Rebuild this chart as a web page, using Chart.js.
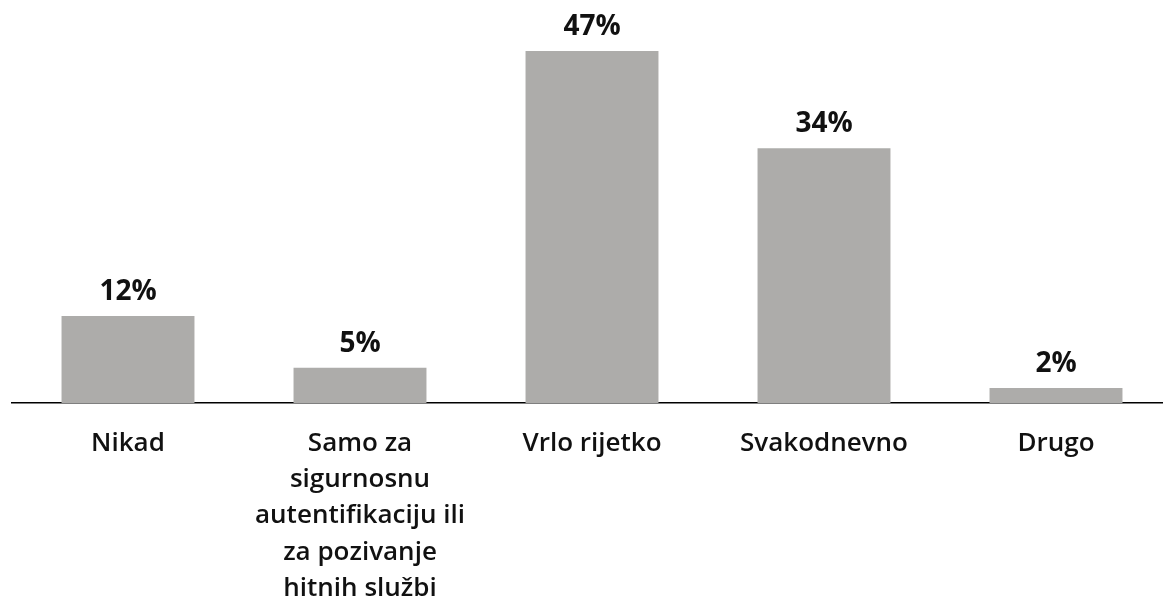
<!DOCTYPE html>
<html>
<head>
<meta charset="utf-8">
<script src="https://cdn.jsdelivr.net/npm/chart.js@4"></script>
<style>
  html, body { margin: 0; padding: 0; overflow: hidden; background: #fff; }
  #wrap { width: 1172px; height: 597px; }
</style>
</head>
<body>
<div id="wrap"><canvas id="chart"></canvas></div>
<script>
// data (labels are shown rounded)
const categories = [
  'Nikad',
  ['Samo za', 'sigurnosnu', 'autentifikaciju ili', 'za pozivanje', 'hitnih službi'],
  'Vrlo rijetko',
  'Svakodnevno',
  'Drugo'
];
const shares = [11.6, 4.7, 47, 34, 2];

const FONT = '"Open Sans", sans-serif';

// value labels over the bars
const valueLabels = {
  id: 'valueLabels',
  afterDatasetsDraw(chart) {
    const ctx = chart.ctx;
    const meta = chart.getDatasetMeta(0);
    ctx.save();
    ctx.font = '700 28px ' + FONT;
    ctx.fillStyle = '#111';
    ctx.textAlign = 'center';
    ctx.textBaseline = 'bottom';
    meta.data.forEach((bar, i) => {
      ctx.fillText(Math.round(shares[i]) + '%', bar.x, bar.y - 10);
    });
    ctx.restore();
  }
};

new Chart(document.getElementById('chart').getContext('2d'), {
  type: 'bar',
  data: {
    labels: categories,
    datasets: [{
      data: shares,
      backgroundColor: '#adacaa',
      barPercentage: 1,
      categoryPercentage: 0.573
    }]
  },
  options: {
    responsive: true,
    maintainAspectRatio: false,
    animation: false,
    layout: { padding: { left: 12, right: 0, top: 0, bottom: 0 } },
    plugins: { legend: { display: false }, tooltip: { enabled: false } },
    scales: {
      x: {
        grid: { display: false },
        border: { color: '#000', width: 1.5 },
        ticks: {
          color: '#111',
          font: { family: FONT, size: 26, weight: 600, lineHeight: 1.4 },
          padding: 14,
          maxRotation: 0,
          autoSkip: false
        },
        afterFit(axis) { axis.height = 194; }
      },
      y: {
        display: false,
        min: 0,
        max: 53.8
      }
    }
  },
  plugins: [valueLabels]
});
</script>
</body>
</html>
